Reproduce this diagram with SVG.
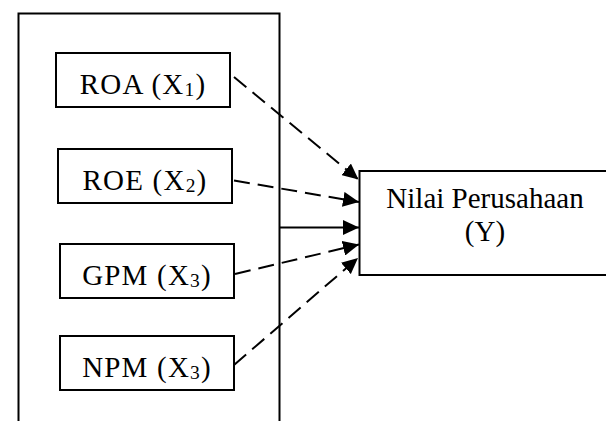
<svg xmlns="http://www.w3.org/2000/svg" width="606" height="421" viewBox="0 0 606 421">
  <style>
    .box { fill: #fff; stroke: #000; stroke-width: 2; }
    .lbl { font-family: "Liberation Serif", "Times New Roman", serif; font-size: 29px; fill: #000; text-anchor: middle; }
    .var { letter-spacing: 1.2px; }
    .sub { font-size: 19.5px; }
    .dash { fill: none; stroke: #000; stroke-width: 2; stroke-dasharray: 16 8; marker-end: url(#head); }
    .solid { fill: none; stroke: #000; stroke-width: 2; marker-end: url(#head); }
  </style>
  <defs>
    <marker id="head" markerUnits="userSpaceOnUse" markerWidth="17" markerHeight="15" refX="16" refY="7.5" orient="auto">
      <path d="M0,0 L16,7.5 L0,15 Z" fill="#000"/>
    </marker>
  </defs>
  <rect width="606" height="421" fill="#fff"/>

  <!-- outer frame grouping the independent variables -->
  <g id="frame">
    <path class="box" d="M18.5,430 V13.5 H279.5 V430" fill="none"/>
  </g>

  <g id="roa">
    <rect class="box" x="56" y="53" width="174" height="54"/>
    <text class="lbl var" x="143" y="94">ROA (X<tspan class="sub" dy="2">1</tspan><tspan dy="-2">)</tspan></text>
  </g>
  <g id="roe">
    <rect class="box" x="58" y="149" width="174" height="54"/>
    <text class="lbl var" x="145" y="190">ROE (X<tspan class="sub" dy="2">2</tspan><tspan dy="-2">)</tspan></text>
  </g>
  <g id="gpm">
    <rect class="box" x="60" y="244" width="174" height="54"/>
    <text class="lbl var" x="147" y="285">GPM (X<tspan class="sub" dy="2">3</tspan><tspan dy="-2">)</tspan></text>
  </g>
  <g id="npm">
    <rect class="box" x="60" y="336" width="174" height="54"/>
    <text class="lbl var" x="147" y="377">NPM (X<tspan class="sub" dy="2">3</tspan><tspan dy="-2">)</tspan></text>
  </g>

  <g id="nilai">
    <rect class="box" x="359.5" y="171" width="260" height="104"/>
    <text class="lbl" x="485" y="208">Nilai Perusahaan</text>
    <text class="lbl" x="485" y="241">(Y)</text>
  </g>

  <g id="connectors">
    <path class="dash" d="M234,77 L358.5,179.5"/>
    <path class="dash" d="M234,180.5 L359,202"/>
    <path class="solid" d="M279.5,227.5 L359,227.5"/>
    <path class="dash" d="M235,274 L359,244.5"/>
    <path class="dash" d="M234,365 L358,258"/>
  </g>
</svg>
